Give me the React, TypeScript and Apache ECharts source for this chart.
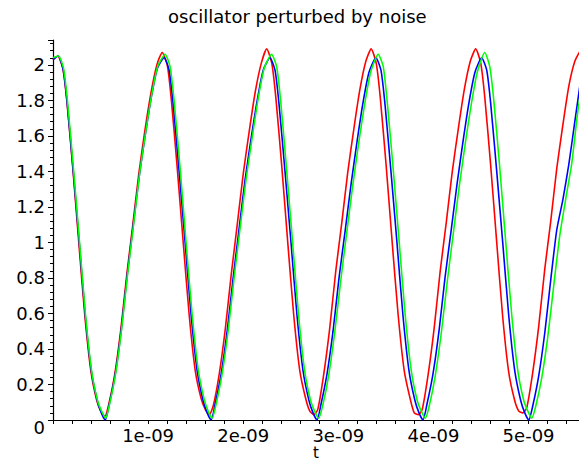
import React, { useEffect, useRef } from "react";
import * as echarts from "echarts";

const TITLE = "oscillator perturbed by noise";
const X_NAME = "t";

// time in units of 1e-09
const tRed = [
  0, 0.05, 0.103, 0.145, 0.208, 0.271, 0.334, 0.397, 0.46, 0.503, 0.545, 0.587, 0.65, 0.713, 0.776, 0.839, 0.903, 0.966, 1.029, 1.092,
  1.148, 1.201, 1.243, 1.306, 1.369, 1.432, 1.495, 1.558, 1.601, 1.643, 1.685, 1.748, 1.811, 1.874, 1.937, 2.001, 2.064, 2.127, 2.19,
  2.247, 2.3, 2.342, 2.405, 2.468, 2.531, 2.594, 2.657, 2.7, 2.742, 2.784, 2.847, 2.91, 2.973, 3.036, 3.1, 3.163, 3.226, 3.289,
  3.345, 3.398, 3.44, 3.503, 3.566, 3.629, 3.692, 3.755, 3.798, 3.84, 3.882, 3.945, 4.008, 4.071, 4.134, 4.198, 4.261, 4.324, 4.387,
  4.444, 4.497, 4.539, 4.602, 4.665, 4.728, 4.791, 4.854, 4.897, 4.939, 4.981, 5.044, 5.107, 5.17, 5.233, 5.297, 5.36, 5.423, 5.486,
  5.543,
];
const yRed = [
  2.03, 2.05, 1.98, 1.8, 1.42, 1.0, 0.59, 0.28, 0.11, 0.05, 0.02, 0.09, 0.26, 0.51, 0.82, 1.1, 1.39, 1.63, 1.84, 2.0,
  2.07, 2.0, 1.81, 1.42, 1.0, 0.59, 0.28, 0.12, 0.06, 0.03, 0.08, 0.26, 0.51, 0.82, 1.1, 1.39, 1.63, 1.85, 2.01,
  2.09, 2.01, 1.82, 1.43, 1.0, 0.59, 0.28, 0.12, 0.05, 0.03, 0.06, 0.26, 0.52, 0.84, 1.11, 1.4, 1.64, 1.86, 2.02,
  2.09, 2.01, 1.82, 1.43, 1.0, 0.59, 0.28, 0.12, 0.04, 0.03, 0.06, 0.26, 0.52, 0.84, 1.11, 1.4, 1.64, 1.86, 2.02,
  2.09, 2.01, 1.82, 1.43, 1.0, 0.58, 0.27, 0.11, 0.05, 0.04, 0.07, 0.27, 0.53, 0.85, 1.12, 1.42, 1.66, 1.88, 2.02,
  2.08,
];

const tBlue = [
  0, 0.055, 0.108, 0.15, 0.213, 0.276, 0.339, 0.402, 0.465, 0.508, 0.55, 0.592, 0.655, 0.718, 0.781, 0.844, 0.908, 0.971, 1.034, 1.097,
  1.168, 1.221, 1.263, 1.326, 1.389, 1.452, 1.515, 1.578, 1.621, 1.663, 1.705, 1.768, 1.831, 1.894, 1.957, 2.021, 2.084, 2.147, 2.21,
  2.281, 2.334, 2.376, 2.439, 2.502, 2.565, 2.628, 2.691, 2.734, 2.776, 2.818, 2.881, 2.944, 3.007, 3.07, 3.134, 3.197, 3.26, 3.323,
  3.395, 3.448, 3.49, 3.553, 3.616, 3.679, 3.742, 3.805, 3.848, 3.89, 3.932, 3.995, 4.058, 4.121, 4.184, 4.248, 4.311, 4.374, 4.437,
  4.507, 4.56, 4.602, 4.665, 4.728, 4.791, 4.854, 4.917, 4.96, 5.002, 5.044, 5.107, 5.17, 5.233, 5.296, 5.36, 5.423, 5.486, 5.549,
];
const yBlue = [
  2.03, 2.05, 1.97, 1.78, 1.4, 1.0, 0.59, 0.28, 0.11, 0.04, 0.0, 0.09, 0.26, 0.51, 0.82, 1.1, 1.38, 1.61, 1.82, 1.98,
  2.04, 1.97, 1.78, 1.4, 1.0, 0.59, 0.28, 0.11, 0.04, 0.0, 0.09, 0.26, 0.5, 0.8, 1.08, 1.36, 1.59, 1.8, 1.97,
  2.04, 1.97, 1.78, 1.4, 1.0, 0.59, 0.28, 0.11, 0.04, 0.0, 0.09, 0.26, 0.5, 0.8, 1.06, 1.33, 1.57, 1.79, 1.96,
  2.04, 1.97, 1.78, 1.4, 1.0, 0.59, 0.28, 0.11, 0.04, 0.0, 0.09, 0.26, 0.5, 0.8, 1.06, 1.33, 1.57, 1.79, 1.96,
  2.04, 1.97, 1.78, 1.4, 1.0, 0.59, 0.28, 0.11, 0.04, 0.0, 0.08, 0.25, 0.49, 0.79, 1.07, 1.24, 1.44, 1.68, 1.92,
];

const tGreen = [
  0, 0.058, 0.111, 0.153, 0.216, 0.279, 0.342, 0.405, 0.468, 0.511, 0.553, 0.595, 0.658, 0.721, 0.784, 0.847, 0.911, 0.974, 1.037, 1.1,
  1.178, 1.231, 1.273, 1.336, 1.399, 1.462, 1.525, 1.588, 1.631, 1.673, 1.715, 1.778, 1.841, 1.904, 1.967, 2.031, 2.094, 2.157, 2.22,
  2.298, 2.351, 2.393, 2.456, 2.519, 2.582, 2.645, 2.708, 2.751, 2.793, 2.835, 2.898, 2.961, 3.024, 3.087, 3.151, 3.214, 3.277, 3.34,
  3.419, 3.472, 3.514, 3.577, 3.64, 3.703, 3.766, 3.829, 3.872, 3.914, 3.956, 4.019, 4.082, 4.145, 4.208, 4.272, 4.335, 4.398, 4.461,
  4.539, 4.592, 4.634, 4.697, 4.76, 4.823, 4.886, 4.949, 4.992, 5.034, 5.076, 5.139, 5.202, 5.265, 5.328, 5.392, 5.455, 5.518, 5.581,
];
const yGreen = [
  2.04, 2.05, 1.98, 1.79, 1.41, 1.0, 0.59, 0.28, 0.11, 0.05, 0.01, 0.09, 0.26, 0.51, 0.82, 1.1, 1.39, 1.62, 1.83, 1.99,
  2.06, 1.99, 1.8, 1.42, 1.0, 0.6, 0.29, 0.12, 0.05, 0.01, 0.09, 0.26, 0.5, 0.8, 1.08, 1.36, 1.59, 1.81, 1.98,
  2.06, 1.99, 1.8, 1.41, 1.0, 0.59, 0.28, 0.11, 0.05, 0.01, 0.08, 0.25, 0.49, 0.78, 1.05, 1.32, 1.56, 1.78, 1.96,
  2.06, 1.99, 1.79, 1.41, 1.0, 0.59, 0.28, 0.11, 0.05, 0.01, 0.08, 0.25, 0.49, 0.78, 1.05, 1.32, 1.56, 1.78, 1.96,
  2.07, 1.99, 1.8, 1.42, 1.0, 0.59, 0.28, 0.11, 0.05, 0.01, 0.08, 0.24, 0.47, 0.76, 1.04, 1.25, 1.45, 1.74, 1.95,
];

const X_MAX = 5.53;
const Y_MAX = 2.14;

const FONT = "DejaVu Sans";

function zip(t: number[], y: number[]) {
  return t.map((v, i) => [v, y[i]]);
}

export default function App() {
  const ref = useRef<HTMLDivElement>(null);
  useEffect(() => {
    const chart = echarts.init(ref.current!, null, { renderer: "svg" });
    const lineSeries = (name: string, color: string, t: number[], y: number[]) => ({
      type: "line",
      name,
      data: zip(t, y),
      showSymbol: false,
      smooth: 0.2,
      lineStyle: { color, width: 1.6 },
      itemStyle: { color },
    });
    chart.setOption({
      animation: false,
      backgroundColor: "#ffffff",
      title: {
        text: TITLE,
        left: 168,
        top: 7,
        padding: 0,
        textStyle: { fontFamily: FONT, fontSize: 18, fontWeight: "normal", color: "#000" },
      },
      grid: { left: 53, right: 0, top: 40, bottom: 42, outerBoundsMode: "none" },
      xAxis: {
        type: "value",
        min: 0,
        max: X_MAX,
        interval: 1,
        name: X_NAME,
        nameLocation: "middle",
        nameGap: 26,
        nameMoveOverlap: false,
        nameTextStyle: { fontFamily: FONT, fontSize: 15, lineHeight: 14, color: "#000" },
        axisLine: { lineStyle: { color: "#000", width: 1.2 } },
        axisTick: { length: 4, lineStyle: { color: "#000" } },
        minorTick: { show: true, splitNumber: 5, length: 4, lineStyle: { color: "#000" } },
        splitLine: { show: false },
        axisLabel: {
          showMaxLabel: false,
          margin: 7,
          fontFamily: FONT,
          fontSize: 18,
          lineHeight: 16,
          color: "#000",
          formatter: (v: number) => (v === 0 ? "" : `${v}e-09`),
        },
      },
      yAxis: {
        type: "value",
        min: 0,
        max: Y_MAX,
        interval: 0.2,
        axisLine: { show: true, lineStyle: { color: "#000", width: 1.2 } },
        axisTick: { show: true, length: 5, lineStyle: { color: "#000" } },
        minorTick: { show: true, splitNumber: 5, length: 3, lineStyle: { color: "#000" } },
        splitLine: { show: false },
        axisLabel: {
          showMaxLabel: false,
          margin: 8,
          fontFamily: FONT,
          fontSize: 18,
          color: "#000",
          formatter: (v: number) => (v === 0 ? "{z|0}" : String(v)),
          rich: { z: { fontFamily: FONT, fontSize: 18, color: "#000", padding: [14, 0, 0, 0] } },
        },
      },
      series: [
        lineSeries("red", "#ff0000", tRed, yRed),
        lineSeries("blue", "#0000ff", tBlue, yBlue),
        lineSeries("green", "#00ff00", tGreen, yGreen),
      ],
    });
    return () => chart.dispose();
  }, []);
  return (
    <div
      ref={ref}
      style={{ position: "fixed", left: 0, top: 0, width: 579, height: 462, background: "#fff" }}
    />
  );
}
